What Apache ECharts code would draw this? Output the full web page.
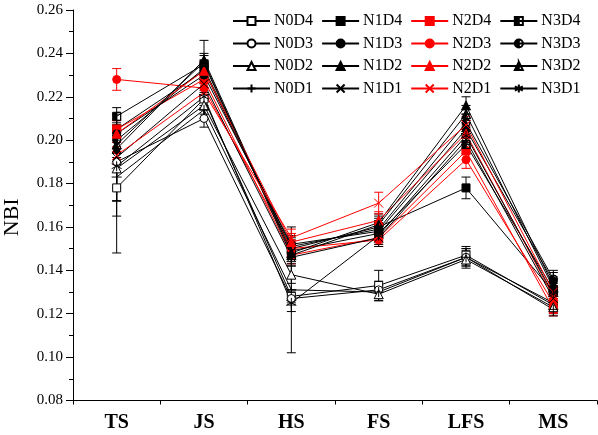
<!DOCTYPE html>
<html><head><meta charset="utf-8">
<script src="https://cdn.jsdelivr.net/npm/echarts@6/dist/echarts.min.js"></script>
<style>html,body{margin:0;padding:0;background:#fff}#c{width:598px;height:435px}</style>
</head><body><div id="c"></div>
<script>
const categories = ['TS', 'JS', 'HS', 'FS', 'LFS', 'MS'];
const yTicks = [0.08, 0.26, 0.02];

const N0D4 = [0.178, 0.219, 0.128, 0.133, 0.147, 0.124];
const N0D4_err = [0.030, 0.004, 0.003, 0.007, 0.004, 0.003];
const N1D4 = [0.205, 0.232, 0.150, 0.160, 0.178, 0.130];
const N1D4_err = [0.004, 0.004, 0.004, 0.004, 0.005, 0.003];
const N2D4 = [0.205, 0.228, 0.147, 0.155, 0.195, 0.122];
const N2D4_err = [0.004, 0.004, 0.004, 0.003, 0.004, 0.003];
const N3D4 = [0.211, 0.235, 0.149, 0.157, 0.198, 0.131];
const N3D4_err = [0.004, 0.004, 0.004, 0.004, 0.004, 0.003];

const N0D3 = [0.190, 0.210, 0.127, 0.131, 0.146, 0.125];
const N0D3_err = [0.012, 0.004, 0.003, 0.004, 0.004, 0.003];
const N1D3 = [0.203, 0.230, 0.152, 0.158, 0.205, 0.135];
const N1D3_err = [0.004, 0.004, 0.004, 0.004, 0.004, 0.004];
const N2D3 = [0.228, 0.224, 0.150, 0.154, 0.191, 0.125];
const N2D3_err = [0.005, 0.004, 0.004, 0.003, 0.004, 0.003];
const N3D3 = [0.200, 0.233, 0.151, 0.159, 0.208, 0.136];
const N3D3_err = [0.004, 0.004, 0.004, 0.004, 0.004, 0.004];

const N0D2 = [0.187, 0.216, 0.138, 0.129, 0.145, 0.123];
const N0D2_err = [0.015, 0.004, 0.004, 0.003, 0.004, 0.003];
const N1D2 = [0.196, 0.237, 0.148, 0.162, 0.216, 0.133];
const N1D2_err = [0.004, 0.009, 0.004, 0.004, 0.004, 0.004];
const N2D2 = [0.203, 0.232, 0.153, 0.163, 0.203, 0.128];
const N2D2_err = [0.004, 0.004, 0.004, 0.004, 0.004, 0.003];
const N3D2 = [0.198, 0.236, 0.147, 0.161, 0.212, 0.132];
const N3D2_err = [0.004, 0.004, 0.004, 0.004, 0.004, 0.004];

const N0D1 = [0.183, 0.214, 0.131, 0.130, 0.146, 0.122];
const N0D1_err = [0.018, 0.004, 0.029, 0.003, 0.004, 0.003];
const N1D1 = [0.192, 0.226, 0.146, 0.155, 0.200, 0.127];
const N1D1_err = [0.020, 0.004, 0.004, 0.004, 0.004, 0.003];
const N2D1 = [0.193, 0.222, 0.155, 0.171, 0.207, 0.130];
const N2D1_err = [0.004, 0.004, 0.004, 0.005, 0.004, 0.003];
const N3D1 = [0.188, 0.220, 0.125, 0.156, 0.202, 0.129];
const N3D1_err = [0.016, 0.004, 0.004, 0.004, 0.004, 0.003];

const RED = '#ff0000', BLK = '#000000';
const SYM = {
  sq: {s: 'rect', size: 8},
  ci: {s: 'circle', size: 8},
  tr: {s: 'triangle', size: 9},
  x: {s: 'path://M0,0L10,10M10,0L0,10', size: 9},
  plus: {s: 'path://M5,0L5,10M0,5L10,5', size: 10},
  ast: {s: 'path://M5,0L5,10M0,2.5L10,7.5M0,7.5L10,2.5', size: 10},
  hsq: {s: 'path://M0,0L10,0L10,10L0,10Z M5,0L5,10L10,10L10,0Z', size: 8},
  hci: {s: 'path://M5,0A5,5 0 1 1 5,10A5,5 0 1 1 5,0Z M5,0L5,10A5,5 0 0 0 5,0Z', size: 8},
  htr: {s: 'path://M5,0L10,10L0,10Z M5,0L5,10L10,10Z', size: 9}
};
const defs = [
  ['N0D4', N0D4, N0D4_err, BLK, 'sq', false],
  ['N1D4', N1D4, N1D4_err, BLK, 'sq', true],
  ['N2D4', N2D4, N2D4_err, RED, 'sq', true],
  ['N3D4', N3D4, N3D4_err, BLK, 'hsq', true],
  ['N0D3', N0D3, N0D3_err, BLK, 'ci', false],
  ['N1D3', N1D3, N1D3_err, BLK, 'ci', true],
  ['N2D3', N2D3, N2D3_err, RED, 'ci', true],
  ['N3D3', N3D3, N3D3_err, BLK, 'hci', true],
  ['N0D2', N0D2, N0D2_err, BLK, 'tr', false],
  ['N1D2', N1D2, N1D2_err, BLK, 'tr', true],
  ['N2D2', N2D2, N2D2_err, RED, 'tr', true],
  ['N3D2', N3D2, N3D2_err, BLK, 'htr', true],
  ['N0D1', N0D1, N0D1_err, BLK, 'plus', true],
  ['N1D1', N1D1, N1D1_err, BLK, 'x', true],
  ['N2D1', N2D1, N2D1_err, RED, 'x', true],
  ['N3D1', N3D1, N3D1_err, BLK, 'ast', true]
];

const FONT = '"Liberation Serif", "Times New Roman", serif';
const series = [];
defs.forEach(([name, vals, errs, col, sym, filled]) => {
  series.push({
    type: 'line', name: name, data: vals, z: 3,
    symbol: SYM[sym].s, symbolSize: SYM[sym].size, showAllSymbol: true,
    color: col,
    lineStyle: {color: col, width: 1},
    itemStyle: {color: filled ? col : '#ffffff', borderColor: col, borderWidth: 1},
    emphasis: {disabled: true},
    animation: false
  });
  series.push({
    type: 'custom', name: name + ' error', silent: true, z: 2, color: col,
    data: vals.map((v, i) => [i, v, errs[i]]),
    encode: {x: 0, y: 1},
    renderItem: function (params, api) {
      const i = api.value(0), v = api.value(1), e = api.value(2);
      const top = api.coord([i, v + e]), bot = api.coord([i, v - e]);
      const st = {stroke: col, lineWidth: 1};
      const w = 4.5;
      return {type: 'group', children: [
        {type: 'line', shape: {x1: top[0], y1: top[1], x2: bot[0], y2: bot[1]}, style: st},
        {type: 'line', shape: {x1: top[0] - w, y1: top[1], x2: top[0] + w, y2: top[1]}, style: st},
        {type: 'line', shape: {x1: bot[0] - w, y1: bot[1], x2: bot[0] + w, y2: bot[1]}, style: st}
      ]};
    }
  });
});

const legendRows = [0, 1, 2, 3].map(r => ({
  data: defs.slice(r * 4, r * 4 + 4).map(d => d[0]),
  left: 227, top: 8 + r * 22.5,
  itemWidth: 37, itemHeight: 10, itemGap: 8,
  textStyle: {fontFamily: FONT, fontSize: 16, color: '#000', padding: [0, 0, 0, -1]},
  selectedMode: false
}));

const chart = echarts.init(document.getElementById('c'), null, {renderer: 'canvas'});
chart.setOption({
  animation: false,
  backgroundColor: '#fff',
  grid: {left: 73, top: 10, right: 1, bottom: 34.5, containLabel: false, outerBoundsMode: 'none'},
  legend: legendRows,
  xAxis: [{
    type: 'category', data: categories, boundaryGap: true,
    axisLine: {lineStyle: {color: '#000', width: 1}},
    axisTick: {alignWithLabel: true, length: 7, lineStyle: {color: '#000'}},
    axisLabel: {fontFamily: FONT, fontSize: 20, fontWeight: 'bold', color: '#000', margin: 12}
  }, {
    type: 'category', data: categories, boundaryGap: true, position: 'bottom',
    axisLine: {show: false},
    axisTick: {show: true, length: 4, lineStyle: {color: '#000'}},
    axisLabel: {show: false}
  }],
  yAxis: {
    type: 'value', min: yTicks[0], max: yTicks[1], interval: yTicks[2],
    name: 'NBI', nameLocation: 'middle', nameGap: 50,
    nameTextStyle: {fontFamily: FONT, fontSize: 22, color: '#000', padding: [0, 24, 0, 0]},
    axisLine: {show: true, lineStyle: {color: '#000', width: 1}},
    axisTick: {show: true, length: 7, lineStyle: {color: '#000'}},
    minorTick: {show: true, splitNumber: 2, length: 4, lineStyle: {color: '#000'}},
    splitLine: {show: false},
    axisLabel: {fontFamily: FONT, fontSize: 15, color: '#000', margin: 10,
      formatter: v => v.toFixed(2)}
  },
  series: series
});
</script>
</body></html>
